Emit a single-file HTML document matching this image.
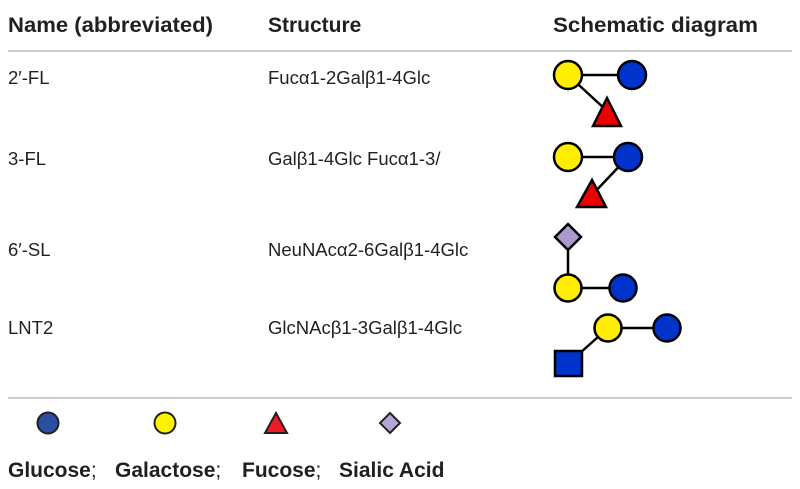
<!DOCTYPE html>
<html><head><style>body{margin:0;background:#fff}svg{display:block}</style></head><body>
<svg width="800" height="489" viewBox="0 0 800 489" xmlns="http://www.w3.org/2000/svg" font-family="Liberation Sans, Arial, sans-serif">
<g font-weight="bold" font-size="21" fill="#231f20">
<text x="8" y="32" textLength="205" lengthAdjust="spacingAndGlyphs">Name (abbreviated)</text>
<text x="268" y="32">Structure</text>
<text x="553" y="32" textLength="205" lengthAdjust="spacingAndGlyphs">Schematic diagram</text>
</g>
<line x1="8" y1="51" x2="792" y2="51" stroke="#bbb" stroke-width="1.5"/>
<line x1="8" y1="398" x2="792" y2="398" stroke="#bbb" stroke-width="1.5"/>
<g font-size="18.5" fill="#231f20">
<text x="8" y="84">2′-FL</text><text x="268" y="84">Fucα1-2Galβ1-4Glc</text>
<text x="8" y="165">3-FL</text><text x="268" y="165">Galβ1-4Glc Fucα1-3/</text>
<text x="8" y="256">6′-SL</text><text x="268" y="256">NeuNAcα2-6Galβ1-4Glc</text>
<text x="8" y="334">LNT2</text><text x="268" y="334">GlcNAcβ1-3Galβ1-4Glc</text>
</g>
<g stroke="#000" stroke-width="2.5">
<line x1="568" y1="75" x2="632" y2="75"/><line x1="568" y1="75" x2="606" y2="110"/>
<circle cx="568" cy="75" r="14" fill="#ffee00"/><circle cx="632" cy="75" r="14" fill="#0033cc"/>
<polygon points="607,98 621,126 593,126" fill="#ee0000"/>
<line x1="568" y1="157" x2="628" y2="157"/><line x1="628" y1="157" x2="592" y2="195"/>
<circle cx="568" cy="157" r="14" fill="#ffee00"/><circle cx="628" cy="157" r="14" fill="#0033cc"/>
<polygon points="592,180 606,207 577,207" fill="#ee0000"/>
<line x1="568" y1="237" x2="568" y2="288"/><line x1="568" y1="288" x2="623" y2="288"/>
<polygon points="568,224 581,237 568,250 555,237" fill="#aa99cc"/>
<circle cx="568" cy="288" r="13.5" fill="#ffee00"/><circle cx="623" cy="288" r="13.5" fill="#0033cc"/>
<line x1="608" y1="328" x2="667" y2="328"/><line x1="608" y1="328" x2="570" y2="362"/>
<circle cx="608" cy="328" r="13.5" fill="#ffee00"/><circle cx="667" cy="328" r="13.5" fill="#0033cc"/>
<rect x="555" y="351" width="27" height="25" fill="#0033cc"/>
</g>
<g stroke="#231f20" stroke-width="2">
<circle cx="48" cy="423" r="10.5" fill="#2a4ea0"/>
<circle cx="165" cy="423" r="10.5" fill="#fff200"/>
<polygon points="276,413 287,433 265,433" fill="#ed1c24"/>
<polygon points="390,413 400,423 390,433 380,423" fill="#b4a7d6"/>
</g>
<g font-weight="bold" font-size="21" fill="#231f20">
<text x="8" y="477">Glucose<tspan font-weight="normal">;</tspan></text>
<text x="115" y="477">Galactose<tspan font-weight="normal">;</tspan></text>
<text x="242" y="477">Fucose<tspan font-weight="normal">;</tspan></text>
<text x="339" y="477">Sialic Acid</text>
</g>
</svg>
</body></html>
